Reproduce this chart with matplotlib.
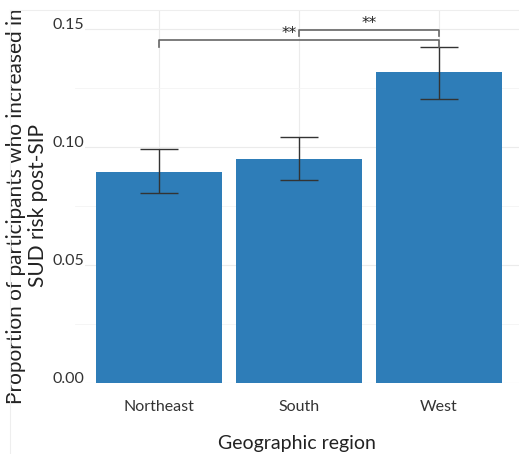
import numpy as np
import matplotlib.pyplot as plt
import matplotlib.transforms as mtrans

regions = ["Northeast", "South", "West"]
props = [0.0894, 0.0949, 0.1318]
err_lo = [0.0805, 0.0862, 0.1203]
err_hi = [0.0992, 0.1042, 0.1424]

yticks = [0, 0.05, 0.10, 0.15]
ylabels = ["0.00", "0.05", "0.10", "0.15"]

# significance brackets: (from, to, height, label)
brackets = [(0, 2, 0.1453, "**"), (1, 2, 0.1496, "**")]

plt.rcParams['font.family'] = ['Lato', 'DejaVu Sans']

fig = plt.figure(figsize=(5.19, 4.54), dpi=100)
ax = fig.add_axes([75/519, 71/454, 444/519, 373/454])

x = np.arange(len(regions))
ax.bar(x, props, width=0.9, color='#2e7db8', zorder=2)
lo = np.array(props) - np.array(err_lo)
hi = np.array(err_hi) - np.array(props)
ax.errorbar(x, props, yerr=[lo, hi], fmt='none', ecolor='#333333',
            elinewidth=1.0, capsize=14, capthick=1.0, zorder=3)

for a, b, h, lab in brackets:
    tip = 0.0029 if a == 0 else 0.0026
    ax.plot([a, a, b, b], [h - tip, h, h, h - tip], color='#666666', lw=1.2, zorder=4)
    xm = (a + b) / 2
    if a == 0:
        xm = 0.93
    ax.text(xm, h - 0.0006, lab, ha='center', va='bottom', fontsize=11,
            color='#222222', family='DejaVu Sans')

ax.set_xlim(-0.6, 2.571)
ax.set_ylim(0, 0.158)
ax.set_xticks(x)
ax.set_xticklabels(regions)
ax.set_yticks(yticks)
ax.set_yticklabels([])
ax.set_yticks([0.025, 0.075, 0.125], minor=True)
ax.grid(True, which='major', color='#ebebeb', lw=0.8, zorder=0)
ax.grid(True, which='minor', axis='y', color='#f4f4f4', lw=0.6, zorder=0)
ax.set_axisbelow(True)
for s in ax.spines.values():
    s.set_visible(False)
ax.tick_params(which='both', length=0, labelsize=11.5, colors='#333333', pad=12)

# y tick labels sit on their grid line, partly over the panel
blend = mtrans.blended_transform_factory(ax.transAxes, ax.transData)
for v, t in zip(yticks, ylabels):
    ax.text(0.021, v, t, transform=blend, ha='right', va='baseline', fontsize=11.5,
            color='#333333', zorder=1.5,
            bbox=dict(boxstyle='square,pad=0.05', fc='white', ec='none'))

ax.set_xlabel("Geographic region", fontsize=14, labelpad=15, color='#222222')
ax.set_ylabel("Proportion of participants who increased in\nSUD risk post-SIP",
              fontsize=15, color='#222222', linespacing=1.1, va='center')
ax.yaxis.set_label_coords(-0.108, 0.475)

fig.add_artist(plt.Line2D([10/519, 1], [1 - 10/454, 1 - 10/454], color='#eeeeee', lw=0.8))
fig.add_artist(plt.Line2D([10/519, 10/519], [0, 1 - 10/454], color='#eeeeee', lw=0.8))

fig.savefig("out.png", dpi=100)
